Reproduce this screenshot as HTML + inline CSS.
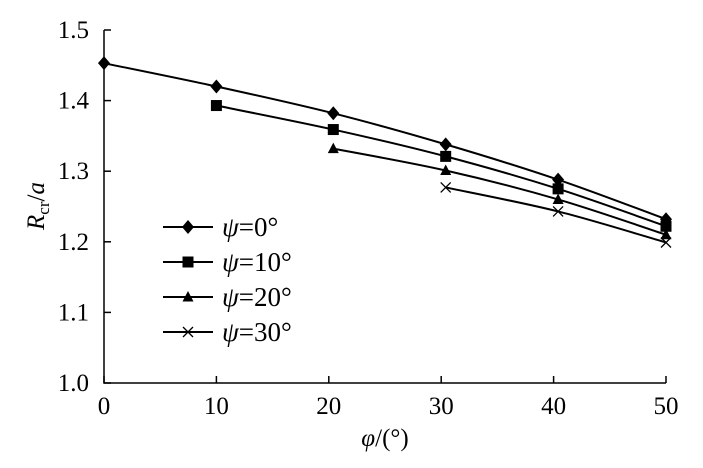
<!DOCTYPE html>
<html><head><meta charset="utf-8"><style>
body{margin:0;background:#fff}
svg{display:block}
text{font-family:"Liberation Serif","DejaVu Serif",serif}
</style></head><body>
<svg id="c" width="703" height="468" font-family="Liberation Serif, serif">
<g id="axes"></g><g id="plot"></g><g id="legend"></g>
<text transform="translate(44,206) rotate(-90)" text-anchor="middle" font-size="25"><tspan font-style="italic">R</tspan><tspan font-size="17" dy="5">cr</tspan><tspan dy="-5">/</tspan><tspan font-style="italic">a</tspan></text>
<text x="385" y="446" text-anchor="middle" font-size="25"><tspan font-style="italic">φ</tspan>/(°)</text>
</svg>
<script>
const xTicks=[0,10,20,30,40,50];
const yTicks=[1.0,1.1,1.2,1.3,1.4,1.5];
const yTickLabels=["1.0","1.1","1.2","1.3","1.4","1.5"];
const seriesNames=["ψ=0°","ψ=10°","ψ=20°","ψ=30°"];
const seriesMarkers=["diamond","square","triangle","cross"];
const x0=[0,10,20.4,30.4,40.4,50];
const y0=[1.453,1.420,1.382,1.338,1.288,1.232];
const x1=[10,20.4,30.4,40.4,50];
const y1=[1.393,1.359,1.321,1.275,1.222];
const x2=[20.4,30.4,40.4,50];
const y2=[1.332,1.301,1.260,1.210];
const x3=[30.4,40.4,50];
const y3=[1.277,1.243,1.199];
const NS="http://www.w3.org/2000/svg";
const X=v=>104+v*11.24, Y=v=>383-(v-1)*706;
function mk(t,a,p){const e=document.createElementNS(NS,t);for(const k in a)e.setAttribute(k,a[k]);p.appendChild(e);return e;}
const ax=document.getElementById('axes'),pl=document.getElementById('plot'),lg=document.getElementById('legend');
let e=mk('path',{d:`M${X(0)},${Y(1.5)}V${Y(1)}H${X(50)}`,fill:'none',stroke:'#000','stroke-width':1.5},ax);

xTicks.forEach(v=>{
 let t=mk('line',{x1:X(v),x2:X(v),y1:Y(1),y2:Y(1)-7,stroke:'#000','stroke-width':1.5},ax);
 
 let l=mk('text',{x:X(v),y:414,'text-anchor':'middle','font-size':25},ax);l.textContent=v;
 
});
yTicks.forEach((v,i)=>{
 let t=mk('line',{x1:X(0),x2:X(0)+7,y1:Y(v),y2:Y(v),stroke:'#000','stroke-width':1.5},ax);
 
 let l=mk('text',{x:89,y:Y(v)+8,'text-anchor':'end','font-size':25},ax);l.textContent=yTickLabels[i];
 
});
function marker(type,cx,cy,p){
 let m;
 if(type==='diamond')m=mk('path',{d:`M${cx},${cy-7}L${cx+6},${cy}L${cx},${cy+7}L${cx-6},${cy}Z`,fill:'#000'},p);
 else if(type==='square')m=mk('rect',{x:cx-5.5,y:cy-5.5,width:11,height:11,fill:'#000'},p);
 else if(type==='triangle')m=mk('path',{d:`M${cx},${cy-6}L${cx+5.5},${cy+4.5}L${cx-5.5},${cy+4.5}Z`,fill:'#000'},p);
 else m=mk('path',{d:`M${cx-5},${cy-5}L${cx+5},${cy+5}M${cx+5},${cy-5}L${cx-5},${cy+5}`,stroke:'#000','stroke-width':1.3},p);
 
}
function smooth(pts){
 let d=`M${pts[0][0]},${pts[0][1]}`;
 for(let i=0;i<pts.length-1;i++){
  const p0=pts[i-1]||pts[i],p1=pts[i],p2=pts[i+1],p3=pts[i+2]||p2;
  d+=`C${p1[0]+(p2[0]-p0[0])/6},${p1[1]+(p2[1]-p0[1])/6} ${p2[0]-(p3[0]-p1[0])/6},${p2[1]-(p3[1]-p1[1])/6} ${p2[0]},${p2[1]}`;
 }
 return d;
}
const XS=[x0,x1,x2,x3],YS=[y0,y1,y2,y3];
XS.forEach((xs,s)=>{
 const pts=xs.map((v,i)=>[X(v),Y(YS[s][i])]);
 let ln=mk('path',{d:smooth(pts),fill:'none',stroke:'#000','stroke-width':2},pl);
 
 pts.forEach(p=>marker(seriesMarkers[s],p[0],p[1],pl));
 const ly=227+s*35;
 let ll=mk('line',{x1:163,x2:213,y1:ly,y2:ly,stroke:'#000','stroke-width':2},lg);
 
 marker(seriesMarkers[s],188,ly,lg);
 let lt=mk('text',{x:222,y:ly+9,'font-size':27},lg);
 lt.innerHTML='<tspan font-style="italic">ψ</tspan>'+seriesNames[s].slice(1);
 
});
</script>
</body></html>
